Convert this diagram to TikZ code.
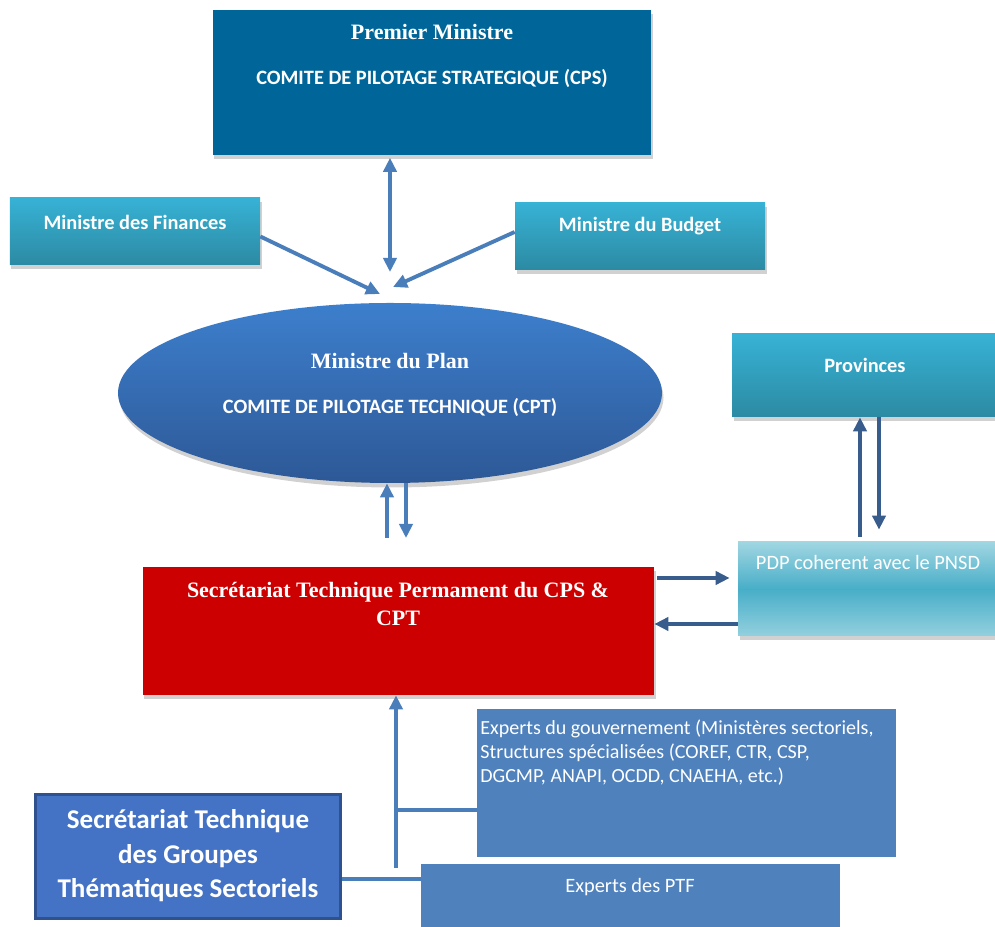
\documentclass[tikz,border=0pt]{standalone}
\usepackage{fontspec}
\setmainfont{Carlito}
\newfontfamily\serifttl{Liberation Serif}
\usetikzlibrary{arrows.meta, shapes.geometric, shadows, calc}

\definecolor{pmblue}{RGB}{0,102,153}
\definecolor{cyantop}{RGB}{55,178,213}
\definecolor{cyanbot}{RGB}{44,138,163}
\definecolor{plantop}{RGB}{61,127,205}
\definecolor{planbot}{RGB}{45,88,150}
\definecolor{pdptop}{RGB}{160,214,226}
\definecolor{pdpmid}{RGB}{72,174,200}
\definecolor{stpred}{RGB}{204,0,0}
\definecolor{expblue}{RGB}{79,129,189}
\definecolor{stgblue}{RGB}{68,114,196}
\definecolor{stgline}{RGB}{47,82,143}
\definecolor{arrlight}{RGB}{74,126,187}
\definecolor{arrdark}{RGB}{56,93,140}

\begin{document}
\begin{tikzpicture}[x=0.2mm, y=-0.2mm,
  bigtip/.tip={Triangle[length=8pt, width=7.5pt]},
  shd/.style={drop shadow={shadow xshift=0.3mm, shadow yshift=-0.9mm, opacity=0.18, fill=black}},
  box/.style={rectangle, inner sep=0pt},
  cyanbox/.style={box, top color=cyantop, bottom color=cyanbot, shd},
  serif/.style={text=white, inner sep=0pt, font=\serifttl\bfseries\fontsize{12.5}{15.4}\selectfont},
  boldtxt/.style={text=white, inner sep=0pt, font=\bfseries\fontsize{11.6}{14}\selectfont},
  plaintxt/.style={text=white, inner sep=0pt, font=\fontsize{11.4}{13.4}\selectfont},
  arr/.style={draw=arrlight, line width=2.2pt, -bigtip},
  darr/.style={draw=arrdark, line width=2.2pt, -bigtip},
  link/.style={draw=arrlight, line width=2pt}]
\path[use as bounding box, fill=white] (0,0) rectangle (995,927);

% boxes
\node[box, fill=pmblue, shd, minimum width=87.6mm, minimum height=29mm] (pm) at (432,82.5) {};
\node[cyanbox, minimum width=50mm, minimum height=13.4mm] (fin) at (135,231.5) {};
\node[cyanbox, minimum width=50mm, minimum height=13.4mm] (bud) at (640,236.5) {};
\node[ellipse, inner sep=0pt, top color=plantop, bottom color=planbot, shd,
  minimum width=108.8mm, minimum height=36mm] (plan) at (390,393) {};
\node[cyanbox, minimum width=52.6mm, minimum height=16.6mm] (prov) at (863.5,375.5) {};
\node[box, top color=pdptop, bottom color=pdptop!85!pdpmid, middle color=pdpmid, shd,
  minimum width=51.4mm, minimum height=18.8mm] (pdp) at (866.5,589) {};
\node[box, fill=stpred, shd, minimum width=102.2mm, minimum height=25.6mm] (stp) at (398.5,631) {};
\node[box, fill=expblue, minimum width=83.8mm, minimum height=29.6mm] (expg) at (686.5,783) {};
\node[box, fill=expblue, minimum width=83.8mm, minimum height=12.6mm] (ptf) at (630.5,895.5) {};
\node[box, fill=stgblue, draw=stgline, line width=1.5pt, minimum width=61mm, minimum height=24.8mm] (stg) at (188,856.5) {};

% texts
\node[serif] (pmtitle) at (432,32) {Premier Ministre};
\node[boldtxt] (pmsub) at (432,78) {COMITE DE PILOTAGE STRATEGIQUE (CPS)};
\node[boldtxt] (fintxt) at (135,222) {Ministre des Finances};
\node[boldtxt] (budtxt) at (640,226) {Ministre du Budget};
\node[serif] (plantitle) at (390,361) {Ministre du Plan};
\node[boldtxt] (plansub) at (390,407) {COMITE DE PILOTAGE TECHNIQUE (CPT)};
\node[boldtxt] (provtxt) at (865,365) {Provinces};
\node[plaintxt, font=\fontsize{11.6}{14}\selectfont] (pdptxt) at (868,563) {PDP coherent avec le PNSD};
\node[serif, align=center] (stptxt) at (398,604) {Secrétariat Technique Permament du CPS \&\\CPT};
\node[plaintxt, align=left, anchor=north west] (expgtxt) at (480,720)
  {Experts du gouvernement (Ministères sectoriels,\\Structures spécialisées (COREF, CTR, CSP,\\DGCMP, ANAPI, OCDD, CNAEHA, etc.)};
\node[plaintxt, font=\fontsize{11.6}{14}\selectfont] (ptftxt) at (630,887) {Experts des PTF};
\node[boldtxt, align=center, font=\bfseries\fontsize{15.4}{19.6}\selectfont] (stgtxt) at (188,856)
  {Secrétariat Technique\\des Groupes\\Thématiques Sectoriels};

% connectors
\coordinate (meet) at (390,272);
\coordinate (finend) at (380,294);
\coordinate (budend) at (393,287);
\coordinate (upx) at (387,538);
\coordinate (dnx) at (406,538);
\coordinate (ra) at (0,578);
\coordinate (rb) at (0,624);
\coordinate (ca) at (860,0);
\coordinate (cb) at (879,0);
\coordinate (cc) at (396,868);
\coordinate (re) at (0,810);
\coordinate (rf) at (0,879);

\draw[arr, bigtip-bigtip, shorten <=0.5mm] (meet |- pm.south) -- (meet);
\draw[arr] ([yshift=-1mm]fin.east) -- (finend);
\draw[arr] ([yshift=0.9mm]bud.west) -- (budend);
\draw[arr] (upx) -- (upx |- plan.south);
\draw[arr] (dnx |- plan.south) -- (dnx);
\draw[darr, shorten <=0.6mm, shorten >=1.6mm] (stp.east |- ra) -- (pdp.west |- ra);
\draw[darr] (pdp.west |- rb) -- (stp.east |- rb);
\draw[darr, shorten <=1mm] (ca |- pdp.north) -- (ca |- prov.south);
\draw[darr, shorten >=2.4mm] (cb |- prov.south) -- (cb |- pdp.north);
\draw[arr, line width=2pt] (cc) -- (cc |- stp.south);
\draw[link] (cc |- re) -- (expg.west |- re);
\draw[link] (stg.east |- rf) -- (ptf.west |- rf);
\end{tikzpicture}
\end{document}
